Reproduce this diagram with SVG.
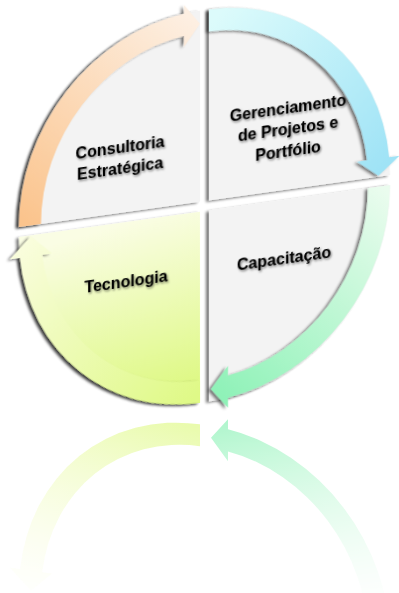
<svg xmlns="http://www.w3.org/2000/svg" xmlns:xlink="http://www.w3.org/1999/xlink" width="399" height="593" viewBox="0 0 399 593">
<defs>
<style>
.lbl{font-family:"Liberation Sans",Arial,sans-serif;font-weight:bold;font-size:16px;fill:#050505;text-anchor:middle;filter:url(#tsh)}
.gray{fill:#f3f3f3}
</style>
<filter id="sh" x="-15%" y="-15%" width="130%" height="130%">
<feGaussianBlur in="SourceAlpha" stdDeviation="1.8"/>
<feOffset dx="-2.5" dy="0.5" result="o"/>
<feComponentTransfer><feFuncA type="linear" slope="0.55"/></feComponentTransfer>
<feMerge><feMergeNode/><feMergeNode in="SourceGraphic"/></feMerge>
</filter>
<filter id="tsh" x="-20%" y="-40%" width="140%" height="180%">
<feDropShadow dx="1" dy="1.5" stdDeviation="1.3" flood-color="#000" flood-opacity="0.5"/>
</filter>
<linearGradient id="gO" gradientUnits="userSpaceOnUse" x1="30" y1="200" x2="190" y2="15">
<stop offset="0" stop-color="#fbc48d"/><stop offset="1" stop-color="#fdefe2"/>
</linearGradient>
<linearGradient id="gC" gradientUnits="userSpaceOnUse" x1="215" y1="20" x2="380" y2="195">
<stop offset="0" stop-color="#dcfbfb"/><stop offset="1" stop-color="#9fe3f6"/>
</linearGradient>
<linearGradient id="gG" gradientUnits="userSpaceOnUse" x1="385" y1="215" x2="215" y2="392">
<stop offset="0" stop-color="#eafcee"/><stop offset="1" stop-color="#8ff2b8"/>
</linearGradient>
<linearGradient id="gY" gradientUnits="userSpaceOnUse" x1="120" y1="212" x2="150" y2="402">
<stop offset="0" stop-color="#fafde4"/><stop offset="1" stop-color="#dcf87e"/>
</linearGradient>
<linearGradient id="gYa" gradientUnits="userSpaceOnUse" x1="30" y1="215" x2="190" y2="400">
<stop offset="0" stop-color="#f9fddc"/><stop offset="1" stop-color="#dff987"/>
</linearGradient>
<linearGradient id="fadeG" gradientUnits="userSpaceOnUse" x1="0" y1="420" x2="0" y2="593">
<stop offset="0" stop-color="#fff" stop-opacity="0.7"/><stop offset="0.6" stop-color="#fff" stop-opacity="0.35"/><stop offset="1" stop-color="#fff" stop-opacity="0.08"/>
</linearGradient>
<mask id="fade" maskUnits="userSpaceOnUse" x="0" y="405" width="399" height="188">
<rect x="0" y="405" width="399" height="188" fill="url(#fadeG)"/>
</mask>
</defs>
<rect width="399" height="593" fill="#fff"/>
<g transform="matrix(1,-0.14,0,1,0,28.7)">
<g filter="url(#sh)">
<g id="node-consultoria"><path class="gray" d="M200 201 L19 201 A181 191 0 0 1 200 10 Z"/></g>
<g id="node-gerenciamento"><path class="gray" d="M209 201 L209 10 A181 191 0 0 1 390 201 Z"/></g>
<g id="node-capacitacao"><path class="gray" d="M209 211 L390 211 A181 191 0 0 1 209 402 Z"/></g>
<g id="node-tecnologia"><path fill="url(#gY)" d="M200 211 L200 402 A181 191 0 0 1 19 211 Z"/></g>
</g>
<g id="connectors" filter="url(#sh)">
<path id="arO" fill="url(#gO)" d="M19 201 A181 191 0 0 1 184 10.7 L184 2 L200 23 L184 44 L184 32.9 A159 169 0 0 0 41 201 Z"/>
<path id="arC" fill="url(#gC)" d="M209 10 A181 191 0 0 1 389.2 183 L399.5 183 L378.5 200 L357 183 L367.1 183 A159 169 0 0 0 209 32 Z"/>
<path id="arG" fill="url(#gG)" d="M390 211 A181 191 0 0 1 228 400.9 L228 411 L211 390 L228 369 L228 378.8 A159 169 0 0 0 368 211 Z"/>
<path id="arY" fill="url(#gYa)" d="M200 402 A181 191 0 0 1 20.1 232 L10 232 L31 212 L52 232 L42.2 232 A159 169 0 0 0 200 380 Z"/>
</g>
<g id="labels">
<text class="lbl" x="120" y="140.6">Consultoria</text>
<text class="lbl" x="120" y="161.6">Estratégica</text>
<text class="lbl" x="288" y="125">Gerenciamento</text>
<text class="lbl" x="288" y="146.5">de Projetos e</text>
<text class="lbl" x="288" y="168">Portfólio</text>
<text class="lbl" x="284" y="274.6">Capacitação</text>
<text class="lbl" x="126" y="276">Tecnologia</text>
</g>
</g>
<g id="reflection" mask="url(#fade)">
<g transform="translate(0,827) scale(1,-1)">
<g transform="matrix(1,-0.14,0,1,0,28.7)">
<use xlink:href="#arY"/>
<use xlink:href="#arG"/>
</g>
</g>
</g>
</svg>
